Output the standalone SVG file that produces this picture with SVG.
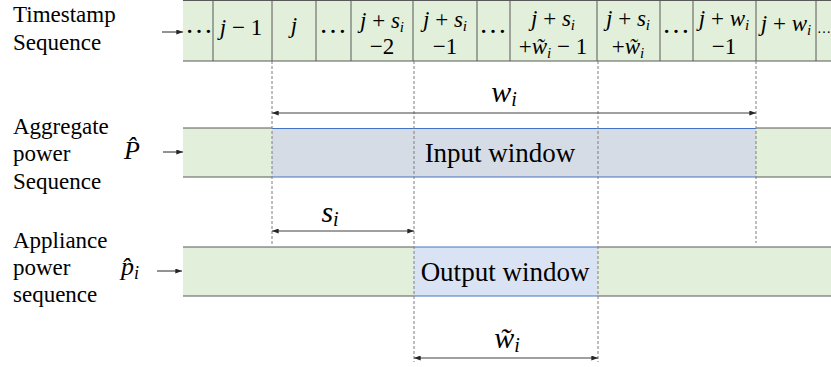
<svg xmlns="http://www.w3.org/2000/svg" width="831" height="367" viewBox="0 0 831 367">
<defs>
<style>
.lbl{font-family:"Liberation Serif","Times New Roman",serif;font-size:23px;fill:#000}
.win{font-family:"Liberation Serif","Times New Roman",serif;font-size:27px;fill:#000;text-anchor:middle}
.m{font-family:"Liberation Serif","Times New Roman",serif;font-size:23px;fill:#000;text-anchor:middle}
.dots{font-family:"Liberation Serif","Times New Roman",serif;font-size:28px;fill:#000;text-anchor:middle}
.big{font-family:"Liberation Serif","Times New Roman",serif;font-size:30px;fill:#000;text-anchor:middle}
.v{font-style:italic}
.green{fill:#e2efda}
.edge{stroke:#595959;stroke-width:1;fill:none}
.bedge{stroke:#4472c4;stroke-width:1;fill:none}
.dash{stroke:#7f7f7f;stroke-width:1;stroke-dasharray:3 2;fill:none}
.arr{stroke:#262626;stroke-width:1;fill:none;marker-end:url(#ah)}
.dim{stroke:#404040;stroke-width:1;fill:none;marker-start:url(#ahs);marker-end:url(#ah)}
</style>
<marker id="ah" viewBox="0 0 8 6" refX="8" refY="3" markerWidth="7" markerHeight="5" markerUnits="userSpaceOnUse" orient="auto"><path d="M0,0 L8,3 L0,6 z" fill="#262626"/></marker>
<marker id="ahs" viewBox="0 0 8 6" refX="0" refY="3" markerWidth="7" markerHeight="5" markerUnits="userSpaceOnUse" orient="auto"><path d="M8,0 L0,3 L8,6 z" fill="#262626"/></marker>
</defs>
<rect width="831" height="367" fill="#fff"/>

<g id="labels">
<text class="lbl" x="13" y="22">Timestamp</text>
<text class="lbl" x="13" y="50">Sequence</text>
<text class="lbl" x="13" y="134">Aggregate</text>
<text class="lbl" x="13" y="161">power</text>
<text class="lbl" x="13" y="189">Sequence</text>
<text class="lbl" x="13" y="248">Appliance</text>
<text class="lbl" x="13" y="275">power</text>
<text class="lbl" x="13" y="302">sequence</text>
<text x="124" y="159" font-family="Liberation Serif,serif" font-size="26" font-style="italic">P̂</text>
<text x="121" y="275" font-family="Liberation Serif,serif" font-size="26" font-style="italic">p̂<tspan font-size="18" dy="4">i</tspan></text>
</g>

<g id="timestamp-row">
<rect class="green" x="183" y="0" width="648" height="61"/>
<line class="edge" x1="183" y1="0.5" x2="831" y2="0.5"/>
<line class="edge" x1="183" y1="61" x2="831" y2="61"/>
<path class="edge" d="M213,0V61M272,0V61M316,0V61M351,0V61M413,0V61M477,0V61M510,0V61M597,0V61M660,0V61M693,0V61M756,0V61M816,0V61"/>
<text class="dots" x="199" y="33">…</text>
<text class="m" x="241" y="35"><tspan class="v">j</tspan> − 1</text>
<text class="m" x="294" y="33" font-style="italic">j</text>
<text class="dots" x="333" y="33">…</text>
<text class="m" x="382" y="28"><tspan class="v">j</tspan> + <tspan class="v">s</tspan><tspan class="v" font-size="15" dy="4">i</tspan></text>
<text class="m" x="382" y="54">−2</text>
<text class="m" x="445" y="27"><tspan class="v">j</tspan> + <tspan class="v">s</tspan><tspan class="v" font-size="15" dy="4">i</tspan></text>
<text class="m" x="445" y="54">−1</text>
<text class="dots" x="493" y="33">…</text>
<text class="m" x="553" y="26"><tspan class="v">j</tspan> + <tspan class="v">s</tspan><tspan class="v" font-size="15" dy="4">i</tspan></text>
<text class="m" x="553" y="54">+<tspan class="v">w̃</tspan><tspan class="v" font-size="15" dy="4">i</tspan><tspan dy="-4"> − 1</tspan></text>
<text class="m" x="628" y="26"><tspan class="v">j</tspan> + <tspan class="v">s</tspan><tspan class="v" font-size="15" dy="4">i</tspan></text>
<text class="m" x="628" y="54">+<tspan class="v">w̃</tspan><tspan class="v" font-size="15" dy="4">i</tspan></text>
<text class="dots" x="676" y="33">…</text>
<text class="m" x="724" y="26"><tspan class="v">j</tspan> + <tspan class="v">w</tspan><tspan class="v" font-size="15" dy="4">i</tspan></text>
<text class="m" x="724" y="54">−1</text>
<text class="m" x="786" y="31"><tspan class="v">j</tspan> + <tspan class="v">w</tspan><tspan class="v" font-size="15" dy="4">i</tspan></text>
<text x="817" y="33" font-family="Liberation Serif,serif" font-size="14">…</text>
</g>

<g id="aggregate-bar">
<rect class="green" x="183" y="128" width="89" height="49"/>
<rect x="272" y="128" width="484" height="49" fill="#d6dce5"/>
<rect class="green" x="756" y="128" width="75" height="49"/>
<path class="edge" d="M183,128H272M183,177H272M756,128H831M756,177H831"/>
<path class="bedge" d="M272,128.5H756M272,177H756"/>
<text class="win" x="500" y="162">Input window</text>
</g>

<g id="appliance-bar">
<rect class="green" x="183" y="247" width="231" height="49"/>
<rect x="414" y="247" width="184" height="49" fill="#dae3f3"/>
<rect class="green" x="598" y="247" width="233" height="49"/>
<path class="edge" d="M183,247H414M183,296H414M598,247H831M598,296H831"/>
<path class="bedge" d="M414,247H598M414,296H598"/>
<text class="win" x="505" y="281">Output window</text>
</g>

<g id="dimension-labels">
<text class="big" x="504" y="102"><tspan class="v">w</tspan><tspan class="v" font-size="20" dy="4">i</tspan></text>
<text class="big" x="330" y="222"><tspan class="v">s</tspan><tspan class="v" font-size="20" dy="4">i</tspan></text>
<text class="big" x="507" y="348"><tspan class="v">w̃</tspan><tspan class="v" font-size="20" dy="4">i</tspan></text>
</g>

<g id="connectors">
<path class="dash" d="M272,61V245M414,61V362M598,61V362M756,61V243"/>
<line class="arr" x1="162" y1="32" x2="183" y2="32"/>
<line class="arr" x1="163" y1="152" x2="183" y2="152"/>
<line class="arr" x1="157" y1="271" x2="182" y2="271"/>
<line class="dim" x1="272" y1="113" x2="756" y2="113"/>
<line class="dim" x1="272" y1="231" x2="414" y2="231"/>
<line class="dim" x1="414" y1="358" x2="598" y2="358"/>
</g>
</svg>
